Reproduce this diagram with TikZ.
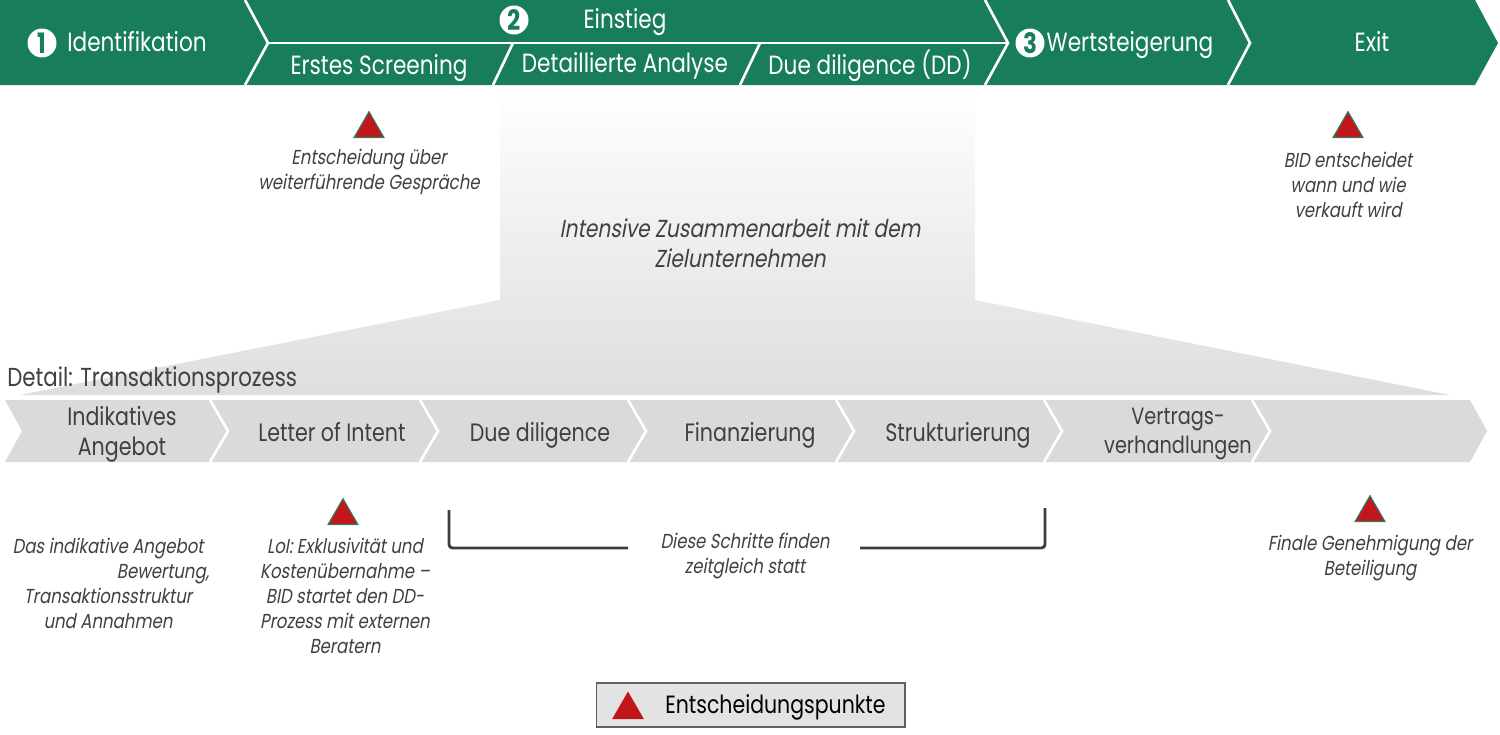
\documentclass[tikz,border=0pt]{standalone}
\usepackage{fontspec}
\setmainfont[FakeStretch=0.82]{Poppins}
\newfontfamily\itf[FakeStretch=0.82,FakeSlant=0.18]{Poppins}
\usetikzlibrary{shapes.geometric}
\definecolor{bidgreen}{RGB}{24,125,90}
\definecolor{txtgray}{RGB}{64,64,64}
\definecolor{tred}{RGB}{192,22,28}
\definecolor{tline}{RGB}{45,130,100}
\definecolor{chevgray}{RGB}{218,218,218}
\definecolor{funbot}{RGB}{222,222,222}
\begin{document}
\begin{tikzpicture}[x=0.02cm,y=-0.02cm,
  topt/.style={text=white, font=\fontsize{15}{18}\selectfont, inner sep=0pt, anchor=mid},
  chevt/.style={text=txtgray, font=\fontsize{14.3}{17}\selectfont, align=center, inner sep=0pt},
  note/.style={text=txtgray, font=\itf\fontsize{11.5}{14.2}\selectfont, align=center, inner sep=0pt},
  numc/.style={circle, fill=white, minimum size=0.58cm, inner sep=0pt, text=bidgreen, font=\bfseries\fontsize{16}{16}\selectfont},
  sepw/.style={white, line width=1.5pt, line join=miter},
  dtri/.style={regular polygon, regular polygon sides=3, minimum size=0.69cm, inner sep=0pt, fill=tred, draw=tline, line width=0.6pt, anchor=south},
  brk/.style={draw=txtgray!95!black, line width=1.6pt, rounded corners=2pt}
]
\useasboundingbox (0,0) rectangle (1500,734);
% ---------- top bar ----------
\fill[bidgreen] (0,0) -- (1475,0) -- (1498,43) -- (1475,85) -- (0,85) -- cycle;
\draw[sepw] (245,0) -- (268,43) -- (245,85);
\draw[sepw] (985,0) -- (1008,43) -- (985,85);
\draw[sepw] (1228,0) -- (1250,43) -- (1228,85);
\draw[sepw] (268,43) -- (1008,43);
\draw[sepw] (513,43) -- (493,85);
\draw[sepw] (760,43) -- (740,85);
\node[numc] (n1) at (42,43) {1};
\node[topt] (ident) at (137,47) {Identifikation};
\node[numc] (n2) at (514,20) {2};
\node[topt] (einst) at (625,24) {Einstieg};
\node[topt] (scr) at (379,70) {Erstes Screening};
\node[topt] (ana) at (625,68) {Detaillierte Analyse};
\node[topt] (dd) at (870,70) {Due diligence (DD)};
\node[numc] (n3) at (1030,43) {3};
\node[topt] (wert) at (1130,47) {Wertsteigerung};
\node[topt] (exit) at (1372,47) {Exit};
% ---------- funnel ----------
\shade[top color=white, bottom color=funbot] (500,86) -- (975,86) -- (975,300) -- (1450,395) -- (20,395) -- (500,300) -- cycle;
\node[note, font=\itf\fontsize{14}{17}\selectfont] (intens) at (740,243) {Intensive Zusammenarbeit mit dem\\Zielunternehmen};
\node[text=txtgray, font=\fontsize{14.8}{16}\selectfont, anchor=west, inner sep=0pt] (detail) at (7,380) {Detail: Transaktionsprozess};
% ---------- top decisions ----------
\node[dtri] (t1) at (369,138) {};
\node[note] (t1txt) at (369,172) {Entscheidung über\\weiterführende Gespräche};
\node[dtri] (t2) at (1348,138) {};
\node[note] (t2txt) at (1348,185) {BID entscheidet\\wann und wie\\verkauft wird};
% ---------- chevrons ----------
\fill[chevgray] (5,400) -- (1470,400) -- (1487,431) -- (1470,462) -- (5,462) -- (22,431) -- cycle;
\foreach \xx in {210,420,628,836,1044,1252}{
  \draw[sepw] (\xx,400) -- (\xx+18,431) -- (\xx,462);
}
\node[chevt] (c1) at (122,434) {Indikatives\\Angebot};
\node[chevt, anchor=mid] (c2) at (332,437) {Letter of Intent};
\node[chevt, anchor=mid] (c3) at (540,437) {Due diligence};
\node[chevt, anchor=mid] (c4) at (750,437) {Finanzierung};
\node[chevt, anchor=mid] (c5) at (958,437) {Strukturierung};
\node[chevt, font=\fontsize{13.4}{16.8}\selectfont] (c6) at (1178,434) {Vertrags-\\verhandlungen};
% ---------- bottom notes ----------
\node[note] (b1) at (108,583) {Das indikative Angebot\\\hspace*{2.2cm}Bewertung,\\Transaktionsstruktur\\und Annahmen};
\node[dtri] (t3) at (343,525) {};
\node[note] (b2) at (345,596) {LoI: Exklusivität und\\Kostenübernahme –\\BID startet den DD-\\Prozess mit externen\\Beratern};
\node[note] (b3) at (745,556) {Diese Schritte finden\\zeitgleich statt};
\coordinate (bl1) at (449,510);
\coordinate (bl2) at (449,548);
\coordinate (bl3) at (628,548);
\coordinate (br1) at (860,548);
\coordinate (br2) at (1045,548);
\coordinate (br3) at (1045,508);
\draw[brk] (bl1) -- (bl2) -- (bl3);
\draw[brk] (br1) -- (br2) -- (br3);
\node[dtri] (t4) at (1370,522) {};
\node[note] (b4) at (1370,558) {Finale Genehmigung der\\Beteiligung};
% ---------- legend ----------
\node[draw=gray!75!black, fill=gray!22, line width=0.6pt, minimum width=6.18cm, minimum height=0.88cm, inner sep=0pt] (legend) at (750.5,705) {};
\node[dtri, draw=tred] (tl) at (628,719) {};
\node[font=\fontsize{14.2}{17}\selectfont, anchor=mid west, inner sep=0pt] (legtxt) at (665,709) {Entscheidungspunkte};
\end{tikzpicture}
\end{document}
